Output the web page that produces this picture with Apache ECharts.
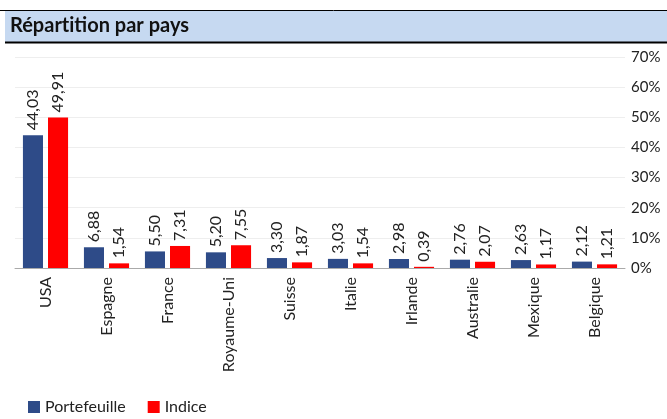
<!DOCTYPE html>
<html>
<head>
<meta charset="utf-8">
<script src="https://cdn.jsdelivr.net/npm/echarts@6/dist/echarts.min.js"></script>
<style>
  html, body { margin: 0; padding: 0; background: #fff; }
  #chart { width: 667px; height: 419px; }
</style>
</head>
<body>
<div id="chart"></div>
<script>
// Répartition par pays — portefeuille vs indice (%)
const categories = ["USA", "Espagne", "France", "Royaume-Uni", "Suisse", "Italie", "Irlande", "Australie", "Mexique", "Belgique"];
const portefeuille = [44.03, 6.88, 5.50, 5.20, 3.30, 3.03, 2.98, 2.76, 2.63, 2.12];
const indice = [49.91, 1.54, 7.31, 7.55, 1.87, 1.54, 0.39, 2.07, 1.17, 1.21];
const yTicks = [0, 10, 20, 30, 40, 50, 60, 70];

const font = "Lato, 'Open Sans', sans-serif";
const fmt = (v) => v.toFixed(2).replace(".", ",");

const chart = echarts.init(document.getElementById("chart"));

const valueLabel = {
  show: true,
  position: "top",
  rotate: 90,
  align: "left",
  verticalAlign: "middle",
  distance: 5,
  fontFamily: font,
  fontSize: 16,
  color: "#222",
  formatter: (p) => fmt(p.value),
};

chart.setOption({
  animation: false,
  textStyle: { fontFamily: font },
  graphic: [
    { type: "rect", shape: { x: 5, y: 11, width: 662, height: 31 }, style: { fill: "#c6d9f1" } },
    { type: "line", shape: { x1: 0, y1: 10.5, x2: 667, y2: 10.5 }, style: { stroke: "#000", lineWidth: 1 } },
    { type: "line", shape: { x1: 5, y1: 42.5, x2: 667, y2: 42.5 }, style: { stroke: "#000", lineWidth: 2 } },
    {
      type: "text", left: 10, top: 16,
      // zero-width non-joiner keeps "ti" from turning into a ligature
      style: { text: "Répart\u200Cition par pays", fontFamily: font, fontSize: 20, fontWeight: "bold", fill: "#111" },
    },
  ],
  legend: {
    left: 23,
    top: 394,
    itemWidth: 12,
    itemHeight: 12,
    itemGap: 22,
    icon: "rect",
    textStyle: { fontFamily: font, fontSize: 16, color: "#222" },
    data: ["Portefeuille", "Indice"],
  },
  grid: { left: 15, right: 42, top: 57, bottom: 151, containLabel: false },
  xAxis: {
    type: "category",
    data: categories,
    axisLine: { lineStyle: { color: "#aaa", width: 1 } },
    axisTick: { show: false },
    axisLabel: { rotate: 90, margin: 9, fontFamily: font, fontSize: 16, color: "#222", interval: 0 },
  },
  yAxis: {
    type: "value",
    position: "right",
    min: yTicks[0],
    max: yTicks[yTicks.length - 1],
    interval: 10,
    axisLine: { show: false },
    axisTick: { show: false },
    axisLabel: { margin: 6, fontFamily: font, fontSize: 15, color: "#222", formatter: (v) => v + "%" },
    splitLine: { lineStyle: { color: "#eeeeee", width: 1 } },
  },
  series: [
    {
      name: "Portefeuille",
      type: "bar",
      data: portefeuille,
      itemStyle: { color: "#2e4b88" },
      barGap: "25%",
      barCategoryGap: "26%",
      label: valueLabel,
    },
    {
      name: "Indice",
      type: "bar",
      data: indice,
      itemStyle: { color: "#ff0000" },
      label: valueLabel,
    },
  ],
});
</script>
</body>
</html>
